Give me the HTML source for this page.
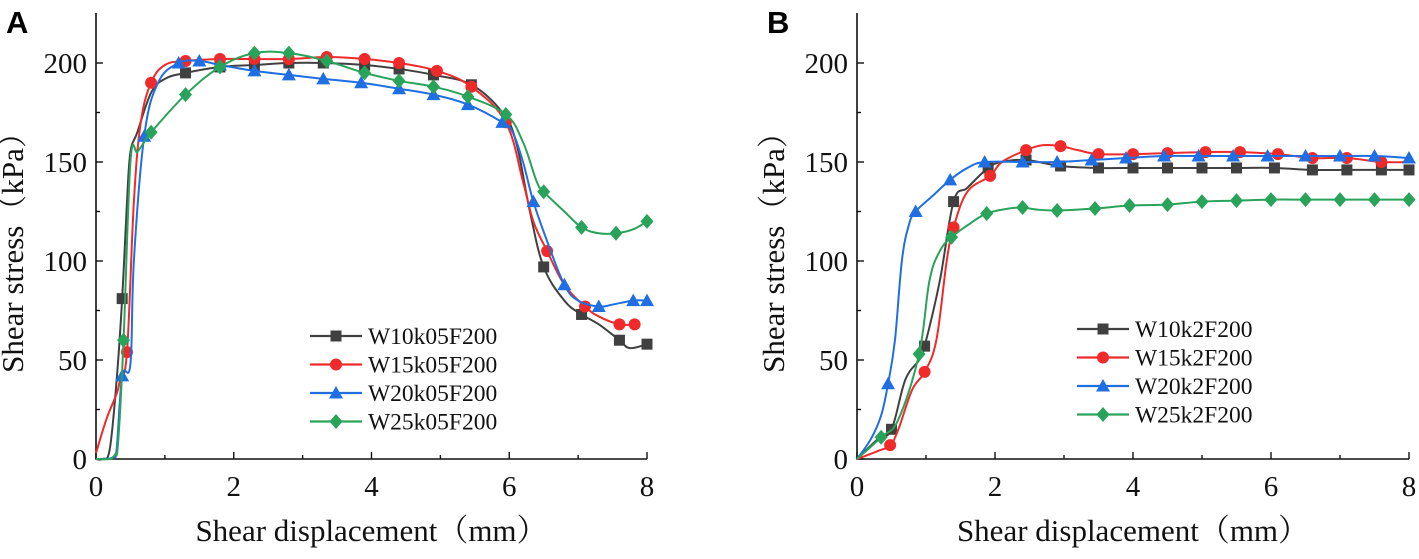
<!DOCTYPE html>
<html><head><meta charset="utf-8"><style>
body{margin:0;background:#fff;}
svg text{font-family:"Liberation Serif","Noto Serif CJK SC",serif;fill:#111;}
svg text.plabel{font-family:"Liberation Sans",sans-serif;font-weight:bold;fill:#000;}
</style></head><body>
<svg id="chart" width="1419" height="554" viewBox="0 0 1419 554" xmlns="http://www.w3.org/2000/svg"></svg>
<script>
const xTicks=[0,2,4,6,8];
const yTicks=[0,50,100,150,200];
const namesA=["W10k05F200","W15k05F200","W20k05F200","W25k05F200"];
const namesB=["W10k2F200","W15k2F200","W20k2F200","W25k2F200"];
const colors=["#404040","#f02a2a","#1f6fe3","#2aa35a"];
const shapes=["square","circle","triangle","diamond"];
// Panel A data: x (mm) and y (kPa)
const aX0=[0,0.1,0.2,0.3,0.38,0.45,0.5,0.6,0.8,1.0,1.3,1.8,2.3,2.8,3.3,3.9,4.4,4.9,5.45,5.9,6.1,6.3,6.5,6.8,7.05,7.3,7.6,7.75,8];
const aY0=[0,0,5,40,81,130,155,165,185,192,195,198,199,200,200,199,197,194,189,175,160,125,97,80,73,68,60,56,58];
const aX1=[0,0.15,0.3,0.35,0.45,0.55,0.65,0.8,1.0,1.3,1.8,2.3,2.8,3.35,3.9,4.4,4.95,5.45,5.95,6.2,6.35,6.55,6.8,7.1,7.3,7.6,7.82];
const aY1=[3,20,33,40,54,130,170,190,199,201,202,202,202,203,202,200,196,188,170,140,120,105,88,77,72,68,68];
const aX2=[0,0.15,0.25,0.3,0.38,0.5,0.55,0.7,0.9,1.2,1.5,1.8,2.3,2.8,3.3,3.85,4.4,4.9,5.4,5.9,6.05,6.2,6.35,6.55,6.8,7.0,7.3,7.5,7.8,8];
const aY2=[0,0,1,5,42,48,100,163,190,200,201,199,196,194,192,190,187,184,179,170,165,150,130,110,88,80,77,78,80,80];
const aX3=[0,0.2,0.27,0.32,0.4,0.5,0.6,0.7,0.8,1.3,1.8,2.3,2.8,3.35,3.9,4.4,4.9,5.4,5.95,6.2,6.4,6.5,6.8,7.05,7.3,7.55,7.8,8];
const aY3=[0,0,2,8,60,150,155,160,165,184,198,205,205,201,195,191,188,183,174,160,140,135,125,117,114,114,116,120];
const aM0=[4,10,11,12,13,14,15,16,17,18,22,24,26,28];
const aM1=[4,7,9,10,11,12,13,14,15,16,17,18,21,23,25,26];
const aM2=[4,7,9,10,11,12,13,14,15,16,17,18,19,22,24,26,28,29];
const aM3=[4,8,9,10,11,12,13,14,15,16,17,18,21,23,25,27];
// Panel B data
const bX0=[0,0.3,0.5,0.7,0.9,0.98,1.2,1.4,1.6,1.9,2.1,2.45,2.95,3.5,4,4.5,5,5.5,6.05,6.6,7.1,7.6,8];
const bY0=[0,10,15,40,50,57,90,130,137,147,150,151,148,147,147,147,147,147,147,146,146,146,146];
const bX1=[0,0.3,0.48,0.6,0.8,0.98,1.15,1.3,1.4,1.6,1.93,2.1,2.45,2.7,2.95,3.2,3.5,4,4.5,5.05,5.55,6.1,6.6,7.1,7.6,8];
const bY1=[0,4,7,15,35,44,60,100,117,135,143,150,156,158.5,158,156,154,154,154.5,155,155,154,152,152,150,150];
const bX2=[0,0.2,0.35,0.45,0.55,0.65,0.75,0.85,1.1,1.35,1.6,1.85,2.4,2.9,3.4,3.9,4.45,4.95,5.45,5.95,6.5,7.0,7.5,8];
const bY2=[0,10,22,38,60,100,118,125,133,141,147,150,150,150,151,152,153,153,153,153,153,153,153,152];
const bX3=[0,0.35,0.6,0.9,1.05,1.2,1.37,1.6,1.88,2.2,2.4,2.6,2.9,3.45,3.95,4.5,5.0,5.5,6.0,6.5,7.0,7.5,8];
const bY3=[0,11,20,53,90,105,112,118,124,126.5,127,126,125.5,126.5,128,128.5,130,130.5,131,131,131,131,131];
const bM0=[2,5,7,9,11,12,13,14,15,16,17,18,19,20,21,22];
const bM1=[2,5,8,10,12,14,16,17,18,19,20,21,22,23,24];
const bM2=[3,7,9,11,12,13,14,15,16,17,18,19,20,21,22,23];
const bM3=[1,3,6,8,10,12,13,14,15,16,17,18,19,20,21,22];

const NS="http://www.w3.org/2000/svg";
const svg=document.getElementById('chart');
function mk(tag,attrs,parent){const e=document.createElementNS(NS,tag);for(const k in attrs)e.setAttribute(k,attrs[k]);(parent||svg).appendChild(e);return e;}
function smooth(pts){let d=`M${pts[0][0]},${pts[0][1]}`;for(let i=0;i<pts.length-1;i++){const p0=pts[Math.max(0,i-1)],p1=pts[i],p2=pts[i+1],p3=pts[Math.min(pts.length-1,i+2)];const t=0.18;d+=` C${p1[0]+(p2[0]-p0[0])*t},${p1[1]+(p2[1]-p0[1])*t} ${p2[0]-(p3[0]-p1[0])*t},${p2[1]-(p3[1]-p1[1])*t} ${p2[0]},${p2[1]}`;}return d;}
function marker(g,shape,cx,cy,col){
  let m;
  if(shape==="square")m=mk('rect',{x:cx-5.5,y:cy-5.5,width:11,height:11,fill:col},g);
  else if(shape==="circle")m=mk('circle',{cx:cx,cy:cy,r:6,fill:col},g);
  else if(shape==="triangle")m=mk('polygon',{points:`${cx},${cy-7} ${cx+7},${cy+5.5} ${cx-7},${cy+5.5}`,fill:col},g);
  else m=mk('polygon',{points:`${cx},${cy-7.5} ${cx+6.5},${cy} ${cx},${cy+7.5} ${cx-6.5},${cy}`,fill:col},g);
  
  
}
function panel(id,letter,x0,x1,xs,ys,ms,names,legX,legY){
  const y0=459,yTop=13,y1=63;
  const sx=v=>x0+(x1-x0)*v/8, sy=v=>y0-(y0-y1)*v/200;
  const g=mk('g',{});
  
  
  const L=mk('text',{x:x0-90,y:33,'font-size':31,'class':'plabel'},g);L.textContent=letter;
  
  const ax=mk('path',{d:`M${x0},${yTop} V${y0} H${x1}`,stroke:'#111','stroke-width':1.6,fill:'none'},g);
  
  for(let v=1;v<8;v+=2)mk('line',{x1:sx(v),x2:sx(v),y1:y0,y2:y0-4,stroke:'#111','stroke-width':1.4},g);
  xTicks.forEach(v=>{mk('line',{x1:sx(v),x2:sx(v),y1:y0,y2:y0-7,stroke:'#111','stroke-width':1.4},g);
    const t=mk('text',{x:sx(v),y:y0+37,'font-size':29,'text-anchor':'middle'},g);t.textContent=v;
    });
  for(let v=25;v<225;v+=50)mk('line',{x1:x0,x2:x0+4,y1:sy(v),y2:sy(v),stroke:'#111','stroke-width':1.4},g);
  yTicks.forEach(v=>{mk('line',{x1:x0,x2:x0+7,y1:sy(v),y2:sy(v),stroke:'#111','stroke-width':1.4},g);
    const t=mk('text',{x:x0-9,y:sy(v)+10,'font-size':29,'text-anchor':'end'},g);t.textContent=v;
    });
  const xt=mk('text',{x:(x0+x1)/2,y:541,'font-size':31,'text-anchor':'middle'},g);xt.textContent='Shear displacement（mm）';
  
  const yt=mk('text',{x:0,y:0,'font-size':31,'text-anchor':'middle',transform:`translate(${x0-73},${245}) rotate(-90)`},g);yt.textContent='Shear stress（kPa）';
  
  for(let s=0;s<4;s++){
    const pts=xs[s].map((x,i)=>[sx(x),sy(ys[s][i])]);
    const p=mk('path',{d:smooth(pts),stroke:colors[s],'stroke-width':2,fill:'none'},g);
    
    ms[s].forEach(i=>marker(g,shapes[s],pts[i][0],pts[i][1],colors[s]));
  }
  for(let s=0;s<4;s++){
    const yy=legY+s*28.5;
    const lg=mk('g',{},g);
    
    mk('line',{x1:legX,x2:legX+52,y1:yy,y2:yy,stroke:colors[s],'stroke-width':2.2},lg);
    marker(lg,shapes[s],legX+26,yy,colors[s]);
    const t=mk('text',{x:legX+58,y:yy+8,'font-size':23.5},lg);t.textContent=names[s];
  }
}
panel('a','A',96,647,[aX0,aX1,aX2,aX3],[aY0,aY1,aY2,aY3],[aM0,aM1,aM2,aM3],namesA,310,336);
panel('b','B',857,1409,[bX0,bX1,bX2,bX3],[bY0,bY1,bY2,bY3],[bM0,bM1,bM2,bM3],namesB,1077,329);
</script>
</body></html>
